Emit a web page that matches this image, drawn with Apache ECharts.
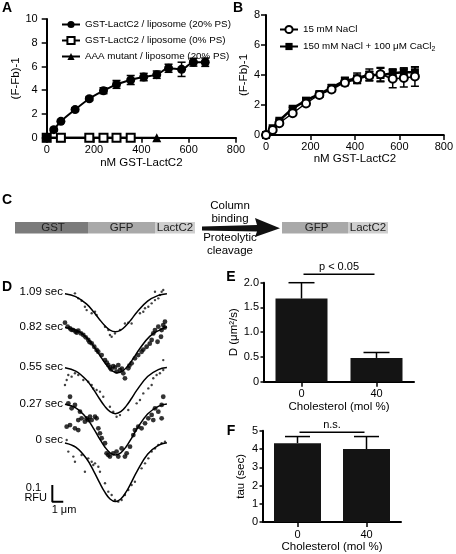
<!DOCTYPE html>
<html><head><meta charset="utf-8">
<script src="https://cdn.jsdelivr.net/npm/echarts@6/dist/echarts.min.js"></script>
<style>html,body{margin:0;padding:0;background:#fff}#c{width:456px;height:554px}</style>
</head><body><div id="c"></div>
<script>
// ---------- Panel A ----------
const conc = [0, 30, 60, 120, 180, 240, 295, 355, 410, 465, 515, 570, 620, 670];
const psA20 = [0, 0.68, 1.38, 2.37, 3.28, 3.96, 4.49, 4.86, 5.11, 5.31, 5.85, 5.76, 6.36, 6.36];
const psA20Err = [0, 0.1, 0.1, 0.15, 0.15, 0.25, 0.33, 0.38, 0.31, 0.31, 0.34, 0.6, 0.33, 0.35];
const concA0 = [0, 60, 180, 240, 295, 355];
const psA0 = [0, 0, 0, 0, 0, 0];
const concAAA = [0, 60, 240, 465];
const aaa = [0, 0, 0, 0];
const namesA = ['GST-LactC2 / liposome (20% PS)', 'GST-LactC2 / liposome (0% PS)', 'AAA mutant / liposome (20% PS)'];
const ticksA_x = [0, 800, 200];
const ticksA_y = [0, 10, 2];

// ---------- Panel B ----------
const nacl15 = [0, 0.33, 0.78, 1.45, 2.1, 2.67, 3.04, 3.49, 3.71, 3.95, 4.05, 3.75, 3.8, 3.9];
const nacl15Err = [0, 0.1, 0.1, 0.1, 0.12, 0.15, 0.15, 0.2, 0.25, 0.3, 0.45, 0.6, 0.6, 0.65];
const cacl = [0, 0.45, 0.95, 1.75, 2.29, 2.73, 3.15, 3.6, 3.78, 4.0, 4.0, 4.11, 4.18, 4.18];
const caclErr = [0, 0.1, 0.1, 0.1, 0.12, 0.15, 0.2, 0.25, 0.35, 0.4, 0.45, 0.3, 0.3, 0.35];
const namesB = ['15 mM NaCl', '150 mM NaCl + 100 \u03bcM CaCl2'];
const ticksB_y = [0, 8, 2];

// ---------- Panel D (x in um, y in RFU with offsets) ----------
const fitX = [0, 1, 2, 2.7, 3.2, 3.7, 4.2, 4.7, 5.2, 5.7, 6.2, 6.7, 7.7, 8.7, 9.5];
const fitX082 = [0, 1.2, 2.2, 2.9, 3.4, 3.9, 4.4, 4.9, 5.4, 5.9, 6.4, 6.9, 7.9, 8.9, 9.5];
const fit109 = [1.440, 1.421, 1.371, 1.314, 1.267, 1.224, 1.193, 1.182, 1.193, 1.224, 1.267, 1.314, 1.390, 1.429, 1.441];
const fit082 = [1.211, 1.187, 1.127, 1.059, 1.003, 0.952, 0.915, 0.902, 0.915, 0.952, 1.003, 1.059, 1.150, 1.196, 1.215];
const fit055 = [0.936, 0.913, 0.852, 0.783, 0.726, 0.674, 0.636, 0.623, 0.636, 0.674, 0.726, 0.783, 0.876, 0.923, 0.937];
const fit027 = [0.687, 0.662, 0.595, 0.518, 0.455, 0.397, 0.356, 0.341, 0.356, 0.397, 0.455, 0.518, 0.620, 0.673, 0.688];
const fit000 = [0.423, 0.394, 0.317, 0.228, 0.156, 0.089, 0.041, 0.024, 0.041, 0.089, 0.156, 0.228, 0.346, 0.406, 0.424];
const pts109 = [[0.93,1.443],[1.24,1.409],[1.55,1.393],[1.86,1.352],[2.02,1.329],[2.49,1.307],[2.8,1.318],[2.95,1.295],[3.73,1.215],[4.04,1.193],[4.19,1.159],[4.35,1.147],[4.66,1.170],[5.13,1.193],[5.59,1.238],[5.9,1.243],[6.21,1.238],[6.99,1.307],[7.3,1.318],[7.46,1.341],[7.77,1.352],[8.08,1.375],[8.39,1.397],[8.7,1.409],[8.85,1.432],[9.01,1.454],[9.16,1.466],[8.39,1.454]];
const pts082 = [[0,1.243],[0.25,1.216],[0.47,1.204],[0.78,1.193],[0.99,1.182],[1.24,1.189],[1.49,1.170],[1.71,1.159],[1.93,1.143],[2.17,1.125],[2.49,1.102],[2.73,1.079],[2.95,1.057],[3.1,1.045],[3.42,1.022],[3.73,0.988],[4.04,0.954],[4.19,0.938],[4.5,0.947],[4.66,0.938],[4.97,0.954],[5.13,0.920],[5.44,0.898],[5.59,0.864],[5.9,0.932],[6.21,0.966],[6.52,1.0],[6.83,1.022],[7.14,1.045],[7.61,1.079],[8.08,1.125],[8.23,1.170],[8.39,1.193],[8.7,1.216],[9.01,1.193],[9.32,1.25],[9.16,1.227],[8.95,1.147],[8.63,1.113],[0.6,1.195],[1.1,1.175],[2.3,1.11],[3.9,0.97],[4.3,0.925],[4.8,0.91],[5.3,0.93],[6.0,0.95],[7.3,1.06],[7.9,1.1],[9.3,1.21]];
const pts055 = [[0.31,0.886],[0.62,0.875],[0.93,0.898],[1.24,0.886],[1.71,0.852],[2.17,0.841],[2.49,0.818],[2.64,0.795],[2.95,0.784],[3.26,0.773],[3.57,0.738],[4.19,0.670],[4.5,0.636],[4.81,0.602],[5.13,0.613],[5.9,0.648],[6.68,0.693],[6.99,0.716],[7.3,0.761],[7.77,0.795],[8.08,0.818],[8.23,0.864],[8.54,0.886],[8.85,0.898],[9.16,0.920],[9.16,0.988],[0.0,0.818],[0.16,0.852]];
const pts027 = [[0.31,0.693],[0.47,0.738],[0.62,0.659],[0.93,0.682],[1.24,0.579],[1.4,0.636],[1.55,0.591],[1.86,0.568],[2.02,0.591],[2.17,0.579],[2.49,0.579],[2.8,0.602],[2.95,0.591],[3.11,0.523],[3.26,0.489],[3.42,0.455],[3.73,0.421],[3.88,0.352],[4.04,0.341],[4.19,0.330],[4.5,0.352],[4.81,0.364],[4.97,0.330],[5.28,0.386],[5.59,0.330],[5.75,0.352],[6.06,0.398],[6.37,0.477],[6.52,0.511],[6.83,0.534],[7.14,0.523],[7.46,0.557],[7.77,0.591],[8.08,0.614],[8.39,0.659],[8.7,0.636],[9.01,0.682],[9.16,0.738],[9.01,0.591],[8.23,0.579],[0.47,0.545],[0.16,0.534],[0.93,0.523],[1.24,0.511],[2.33,0.602]];
const pts000 = [[2.17,0.318],[2.49,0.295],[2.64,0.273],[2.8,0.284],[3.11,0.261],[3.26,0.227],[1.86,0.227],[3.73,0.148],[4.04,0.091],[4.35,0.068],[4.66,0.034],[4.97,0.023],[5.28,0.034],[5.59,0.068],[5.9,0.102],[6.21,0.136],[6.52,0.159],[7.14,0.250],[7.46,0.284],[7.77,0.318],[8.08,0.364],[8.39,0.386],[8.7,0.409],[9.01,0.421],[9.32,0.432],[1.55,0.341],[0.93,0.295],[0.78,0.330],[0.31,0.364],[0.16,0.443]];
const scaleBar = [[-1.18, 0.136], [-1.18, 0.0225], [-0.16, 0.0225]];
const timeLabels = ['1.09 sec', '0.82 sec', '0.55 sec', '0.27 sec', '0 sec'];

// ---------- Panels E, F ----------
const cholCats = ['0', '40'];
const diffD = [1.68, 0.48];
const diffDErr = [0.32, 0.11];
const tau = [4.32, 4.0];
const tauErr = [0.36, 0.68];
const sigE = 2.17, sigF = 4.91;

// ================================================================
const FONT = '"Liberation Sans", Arial, sans-serif';
const K = '#000';
const axLine = {show: true, onZero: false, lineStyle: {color: K, width: 2}};
const axTick = {show: true, inside: false, length: 5, lineStyle: {color: K, width: 1.5}};
const lbl = (m) => ({color: K, fontSize: 11, fontFamily: FONT, margin: m});
const nameTS = {color: K, fontSize: 11.5, fontFamily: FONT};

function errSeries(xi, yi, data, capW, upperOnly) {
  return {
    type: 'custom', xAxisIndex: xi, yAxisIndex: yi, data: data, silent: true, z: 3,
    renderItem: function (params, api) {
      const x = api.value(0), lo = api.value(1), hi = api.value(2);
      const a = api.coord([x, lo]), b = api.coord([x, hi]);
      const st = {stroke: K, lineWidth: 1.5, fill: null};
      const ch = [
        {type: 'line', shape: {x1: a[0], y1: a[1], x2: b[0], y2: b[1]}, style: st},
        {type: 'line', shape: {x1: b[0] - capW / 2, y1: b[1], x2: b[0] + capW / 2, y2: b[1]}, style: st}
      ];
      if (!upperOnly) ch.push({type: 'line', shape: {x1: a[0] - capW / 2, y1: a[1], x2: a[0] + capW / 2, y2: a[1]}, style: st});
      return {type: 'group', children: ch};
    }
  };
}
function sigSeries(xi, yi, h, text) {
  return {
    type: 'custom', xAxisIndex: xi, yAxisIndex: yi, data: [[0, 1, h]], silent: true, clip: false, z: 5,
    renderItem: function (params, api) {
      const a = api.coord([api.value(0), api.value(2)]), b = api.coord([api.value(1), api.value(2)]);
      return {type: 'group', children: [
        {type: 'line', shape: {x1: a[0] + 2, y1: a[1], x2: b[0] - 2, y2: b[1]}, style: {stroke: K, lineWidth: 1.5}},
        {type: 'text', x: (a[0] + b[0]) / 2, y: a[1] - 7, style: {text: text, align: 'center', verticalAlign: 'middle', fontSize: 11, fontFamily: FONT, fill: K}}
      ]};
    }
  };
}
const pair = (xs, ys) => xs.map((x, i) => [x, ys[i]]);
const errData = (xs, ys, es) => xs.map((x, i) => [x, ys[i] - es[i], ys[i] + es[i]]);

const txt = (t, x, y, o) => Object.assign({type: 'text', x: x, y: y, silent: true,
  style: Object.assign({text: t, fontSize: 11.5, fontFamily: FONT, fill: K, align: 'left', verticalAlign: 'middle'}, o || {})});
const letter = (t, x, y) => txt(t, x, y, {fontSize: 14, fontWeight: 'bold', align: 'center'});

const graphics = [
  letter('A', 7, 8), letter('B', 238, 8), letter('C', 7, 200), letter('D', 7, 287), letter('E', 231, 277), letter('F', 231, 431),
  // Panel C schematic
  {type: 'rect', shape: {x: 15, y: 222, width: 73, height: 11.5}, style: {fill: '#7b7b7b'}, silent: true},
  {type: 'rect', shape: {x: 88, y: 222, width: 67, height: 11.5}, style: {fill: '#a9a9a9'}, silent: true},
  {type: 'rect', shape: {x: 155, y: 222, width: 40, height: 11.5}, style: {fill: '#cfcfcf'}, silent: true},
  {type: 'rect', shape: {x: 282, y: 222, width: 66, height: 11.5}, style: {fill: '#a9a9a9'}, silent: true},
  {type: 'rect', shape: {x: 348, y: 222, width: 40, height: 11.5}, style: {fill: '#cfcfcf'}, silent: true},
  txt('GST', 53, 228, {align: 'center', fill: '#222'}),
  txt('GFP', 121.5, 228, {align: 'center', fill: '#222'}),
  txt('LactC2', 175, 228, {align: 'center', fill: '#222'}),
  txt('GFP', 316.5, 228, {align: 'center', fill: '#222'}),
  txt('LactC2', 368, 228, {align: 'center', fill: '#222'}),
  {type: 'polygon', silent: true, shape: {points: [[202, 226.5], [257, 225], [255, 218], [280, 228.3], [255, 237], [257, 231.5], [202, 230.5]]}, style: {fill: '#111'}},
  txt('Column', 230, 206, {align: 'center'}),
  txt('binding', 230, 219, {align: 'center'}),
  txt('Proteolytic', 230, 238, {align: 'center'}),
  txt('cleavage', 230, 250.5, {align: 'center'}),
  // Panel D labels
  txt(timeLabels[0], 63, 292, {align: 'right'}),
  txt(timeLabels[1], 63, 327, {align: 'right'}),
  txt(timeLabels[2], 63, 367, {align: 'right'}),
  txt(timeLabels[3], 63, 404, {align: 'right'}),
  txt(timeLabels[4], 63, 440, {align: 'right'}),
  txt('0.1', 33.5, 487.5, {align: 'center', fontSize: 11}),
  txt('RFU', 47, 497.5, {align: 'right', fontSize: 11}),
  txt('1 \u03bcm', 64, 510, {align: 'center', fontSize: 11})
];

const option = {
  animation: false,
  backgroundColor: '#fff',
  textStyle: {fontFamily: FONT},
  grid: [
    {left: 46.7, top: 19, width: 189.3, height: 118.7, containLabel: false},
    {left: 266, top: 15, width: 181, height: 120, containLabel: false},
    {left: 52.1, top: 285, width: 114.8, height: 220, containLabel: false},
    {left: 264, top: 282.7, width: 150, height: 99, containLabel: false},
    {left: 263, top: 430.7, width: 138, height: 92.6, containLabel: false}
  ],
  xAxis: [
    {type: 'value', gridIndex: 0, min: ticksA_x[0], max: ticksA_x[1], interval: ticksA_x[2], axisLine: axLine, axisTick: axTick, axisLabel: lbl(7), splitLine: {show: false},
      name: 'nM GST-LactC2', nameLocation: 'middle', nameGap: 17, nameTextStyle: nameTS},
    {type: 'value', gridIndex: 1, min: ticksA_x[0], max: ticksA_x[1], interval: ticksA_x[2], axisLine: axLine, axisTick: axTick, axisLabel: lbl(6), splitLine: {show: false},
      name: 'nM GST-LactC2', nameLocation: 'middle', nameGap: 17, nameTextStyle: nameTS},
    {type: 'value', gridIndex: 2, min: -1.2, max: 9.5, show: false},
    {type: 'category', gridIndex: 3, data: cholCats, axisLine: axLine, axisTick: Object.assign({}, axTick, {alignWithLabel: true}), axisLabel: lbl(7),
      name: 'Cholesterol (mol %)', nameLocation: 'middle', nameGap: 16.5, nameTextStyle: nameTS},
    {type: 'category', gridIndex: 4, data: cholCats, axisLine: axLine, axisTick: Object.assign({}, axTick, {alignWithLabel: true}), axisLabel: lbl(7),
      name: 'Cholesterol (mol %)', nameLocation: 'middle', nameGap: 16.5, nameTextStyle: nameTS}
  ],
  yAxis: [
    {type: 'value', gridIndex: 0, min: ticksA_y[0], max: ticksA_y[1], interval: ticksA_y[2], axisLine: axLine, axisTick: axTick, axisLabel: lbl(9), splitLine: {show: false},
      name: '(F-Fb)-1', nameLocation: 'middle', nameGap: 13, nameTextStyle: nameTS},
    {type: 'value', gridIndex: 1, min: ticksB_y[0], max: ticksB_y[1], interval: ticksB_y[2], axisLine: axLine, axisTick: axTick, axisLabel: lbl(6), splitLine: {show: false},
      name: '(F-Fb)-1', nameLocation: 'middle', nameGap: 15, nameTextStyle: nameTS},
    {type: 'value', gridIndex: 2, min: 0, max: 1.5, show: false},
    {type: 'value', gridIndex: 3, min: 0, max: 2, interval: 0.5, axisLine: axLine, axisTick: Object.assign({}, axTick, {length: 3.5}), axisLabel: Object.assign(lbl(5), {formatter: v => v === 0 ? '0' : v.toFixed(1)}), splitLine: {show: false},
      name: 'D (\u03bcm\u00b2/s)', nameLocation: 'middle', nameGap: 21, nameTextStyle: nameTS},
    {type: 'value', gridIndex: 4, min: 0, max: 5, interval: 1, axisLine: axLine, axisTick: Object.assign({}, axTick, {length: 3.5}), axisLabel: lbl(5), splitLine: {show: false},
      name: 'tau (sec)', nameLocation: 'middle', nameGap: 16, nameTextStyle: nameTS}
  ],
  legend: [
    {data: namesA, left: 56, top: 14.5, orient: 'vertical', itemWidth: 18, itemHeight: 9, itemGap: 6, selectedMode: false,
      textStyle: {fontSize: 9.8, fontFamily: FONT, color: K}},
    {data: namesB, left: 274, top: 19.5, orient: 'vertical', itemWidth: 18, itemHeight: 9, itemGap: 7, selectedMode: false,
      formatter: n => n.replace('CaCl2', 'CaCl{sub|2}'),
      textStyle: {fontSize: 9.8, fontFamily: FONT, color: K, rich: {sub: {fontSize: 7, fontFamily: FONT, color: K, verticalAlign: 'bottom', padding: [5, 0, 0, 0]}}}}
  ],
  graphic: graphics,
  series: [
    // A
    {name: namesA[2], type: 'line', xAxisIndex: 0, yAxisIndex: 0, data: pair(concAAA, aaa), symbol: 'triangle', symbolSize: 9,
      itemStyle: {color: K}, lineStyle: {color: K, width: 2}, z: 2},
    {name: namesA[1], type: 'line', xAxisIndex: 0, yAxisIndex: 0, data: pair(concA0, psA0), symbol: 'emptyRect', symbolSize: 8,
      itemStyle: {color: K, borderWidth: 1.5}, lineStyle: {color: K, width: 2}, z: 3},
    errSeries(0, 0, errData(conc, psA20, psA20Err), 8, false),
    {name: namesA[0], type: 'line', xAxisIndex: 0, yAxisIndex: 0, data: pair(conc, psA20), symbol: 'circle', symbolSize: 9, smooth: 0.3,
      itemStyle: {color: K}, lineStyle: {color: K, width: 2}, z: 4},
    // B
    errSeries(1, 1, errData(conc, nacl15, nacl15Err), 8, false),
    errSeries(1, 1, errData(conc, cacl, caclErr), 8, false),
    {name: namesB[1], type: 'line', xAxisIndex: 1, yAxisIndex: 1, data: pair(conc, cacl), symbol: 'rect', symbolSize: 8, smooth: 0.3,
      itemStyle: {color: K}, lineStyle: {color: K, width: 2.5}, z: 3},
    {name: namesB[0], type: 'line', xAxisIndex: 1, yAxisIndex: 1, data: pair(conc, nacl15), symbol: 'emptyCircle', symbolSize: 8, smooth: 0.3,
      itemStyle: {color: K, borderWidth: 1.5}, lineStyle: {color: K, width: 1.5}, z: 4},
    // D fits
    {type: 'line', xAxisIndex: 2, yAxisIndex: 2, data: pair(fitX, fit109), smooth: 0.4, symbol: 'none', lineStyle: {color: K, width: 1.5}, silent: true},
    {type: 'line', xAxisIndex: 2, yAxisIndex: 2, data: pair(fitX082, fit082), smooth: 0.4, symbol: 'none', lineStyle: {color: K, width: 1.5}, silent: true},
    {type: 'line', xAxisIndex: 2, yAxisIndex: 2, data: pair(fitX, fit055), smooth: 0.4, symbol: 'none', lineStyle: {color: K, width: 1.5}, silent: true},
    {type: 'line', xAxisIndex: 2, yAxisIndex: 2, data: pair(fitX, fit027), smooth: 0.4, symbol: 'none', lineStyle: {color: K, width: 1.5}, silent: true},
    {type: 'line', xAxisIndex: 2, yAxisIndex: 2, data: pair(fitX, fit000), smooth: 0.4, symbol: 'none', lineStyle: {color: K, width: 1.5}, silent: true},
    // D points
    {type: 'scatter', xAxisIndex: 2, yAxisIndex: 2, data: pts109, symbolSize: 2.4, itemStyle: {color: '#111'}, silent: true},
    {type: 'scatter', xAxisIndex: 2, yAxisIndex: 2, data: pts082, symbolSize: 4.8, itemStyle: {color: '#000'}, silent: true},
    {type: 'scatter', xAxisIndex: 2, yAxisIndex: 2, data: pts055, symbolSize: 2.4, itemStyle: {color: '#111'}, silent: true},
    {type: 'scatter', xAxisIndex: 2, yAxisIndex: 2, data: pts027, symbolSize: 4.8, itemStyle: {color: '#000'}, silent: true},
    {type: 'scatter', xAxisIndex: 2, yAxisIndex: 2, data: pts000, symbolSize: 2.4, itemStyle: {color: '#111'}, silent: true},
    {type: 'line', xAxisIndex: 2, yAxisIndex: 2, data: scaleBar, symbol: 'none', lineStyle: {color: K, width: 2}, silent: true},
    // E
    {type: 'bar', xAxisIndex: 3, yAxisIndex: 3, data: diffD, barWidth: 52, itemStyle: {color: '#141414'}, silent: true},
    errSeries(3, 3, cholCats.map((c, i) => [i, diffD[i], diffD[i] + diffDErr[i]]), 26, true),
    sigSeries(3, 3, sigE, 'p < 0.05'),
    // F
    {type: 'bar', xAxisIndex: 4, yAxisIndex: 4, data: tau, barWidth: 47, itemStyle: {color: '#141414'}, silent: true},
    errSeries(4, 4, cholCats.map((c, i) => [i, tau[i], tau[i] + tauErr[i]]), 25, true),
    sigSeries(4, 4, sigF, 'n.s.')
  ]
};
const chart = echarts.init(document.getElementById('c'));
chart.setOption(option);
</script>
</body></html>
